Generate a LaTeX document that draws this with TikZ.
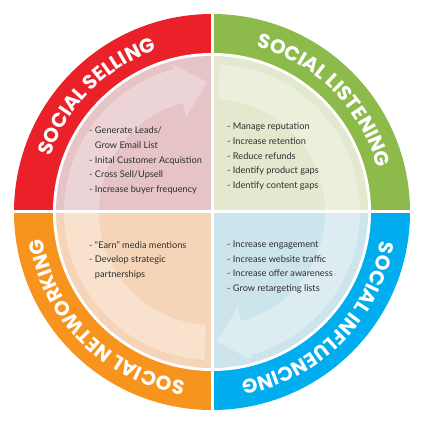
\documentclass[tikz,border=0pt]{standalone}
\usepackage{fontspec}
\setmainfont{Lato}
\newfontfamily\labelfont{Poppins}
\usetikzlibrary{decorations.text}
\definecolor{redband}{HTML}{EB2129}
\definecolor{greenband}{HTML}{8DBB4B}
\definecolor{orangeband}{HTML}{F7941E}
\definecolor{blueband}{HTML}{00ADEE}
\definecolor{redmid}{HTML}{E5C3C6}
\definecolor{redlight}{HTML}{ECD4D6}
\definecolor{greenmid}{HTML}{E2E9CE}
\definecolor{greenlight}{HTML}{EBF0DD}
\definecolor{orangemid}{HTML}{F6D4B7}
\definecolor{orangelight}{HTML}{F8E2CD}
\definecolor{bluemid}{HTML}{CCE4EB}
\definecolor{bluelight}{HTML}{DCECF1}
\definecolor{bodytext}{HTML}{2E2E2E}
\tikzset{
  arrowA/.style={insert path={(267:113pt) arc[start angle=267, end angle=105, radius=113pt]
      -- (105:99pt) -- (92:130pt) -- (105:153pt) -- (105:148pt)
      arc[start angle=105, end angle=267, radius=148pt] -- cycle}},
  arrowB/.style={insert path={(87:113pt) arc[start angle=87, end angle=-75, radius=113pt]
      -- (-75:99pt) -- (-88:130pt) -- (-75:153pt) -- (-75:148pt)
      arc[start angle=-75, end angle=87, radius=148pt] -- cycle}},
  listbox/.style={anchor=north west, inner sep=0pt, align=left, text=bodytext,
      font={\fontsize{9.2}{14.6}\selectfont}},
  ringlabel/.style={decorate, decoration={text along path, text align=center,
      text color=white, text={|\labelfont\bfseries\fontsize{20}{20}\selectfont|#1}}}
}
\begin{document}
\begin{tikzpicture}
\useasboundingbox (-212pt,-213pt) rectangle (213pt,212pt);
% outer bands
\fill[redband] (0,0) -- (90:198pt) arc[start angle=90, end angle=180, radius=198pt] -- cycle;
\fill[greenband] (0,0) -- (0:198pt) arc[start angle=0, end angle=90, radius=198pt] -- cycle;
\fill[orangeband] (0,0) -- (180:198pt) arc[start angle=180, end angle=270, radius=198pt] -- cycle;
\fill[blueband] (0,0) -- (270:198pt) arc[start angle=270, end angle=360, radius=198pt] -- cycle;
\fill[white] (0,0) circle[radius=159pt];
% inner tints
\fill[redmid] (0,0) -- (90:156pt) arc[start angle=90, end angle=180, radius=156pt] -- cycle;
\fill[greenmid] (0,0) -- (0:156pt) arc[start angle=0, end angle=90, radius=156pt] -- cycle;
\fill[orangemid] (0,0) -- (180:156pt) arc[start angle=180, end angle=270, radius=156pt] -- cycle;
\fill[bluemid] (0,0) -- (270:156pt) arc[start angle=270, end angle=360, radius=156pt] -- cycle;
% circular arrows
\begin{scope}
  \clip (0,0) rectangle (-160pt,160pt);
  \fill[redlight, arrowA];
\end{scope}
\begin{scope}
  \clip (0,0) rectangle (-160pt,-160pt);
  \fill[orangelight, arrowA];
\end{scope}
\begin{scope}
  \clip (0,0) rectangle (160pt,160pt);
  \fill[greenlight, arrowB];
\end{scope}
\begin{scope}
  \clip (0,0) rectangle (160pt,-160pt);
  \fill[bluelight, arrowB];
\end{scope}
% separators
\fill[white] (-1.5pt,-200pt) rectangle (1.5pt,200pt);
\fill[white] (-200pt,-1.5pt) rectangle (200pt,1.5pt);
% ring labels
\path[ringlabel={SOCIAL SELLING}] (180:171pt) arc[start angle=180, end angle=90, radius=171pt];
\path[ringlabel={SOCIAL LISTENING}] (90:171pt) arc[start angle=90, end angle=0, radius=171pt];
\path[ringlabel={SOCIAL INFLUENCING}] (0:171pt) arc[start angle=0, end angle=-90, radius=171pt];
\path[ringlabel={SOCIAL NETWORKING}] (-90:171pt) arc[start angle=-90, end angle=-180, radius=171pt];
% lists
\node[listbox] (selling) at (-123pt,85pt) {- Generate Leads/\\\phantom{- }Grow Email List\\- Inital Customer Acquistion\\- Cross Sell/Upsell\\- Increase buyer frequency};
\node[listbox] (listening) at (15pt,89pt) {- Manage reputation\\- Increase retention\\- Reduce refunds\\- Identify product gaps\\- Identify content gaps};
\node[listbox] (networking) at (-123pt,-29pt) {- “Earn” media mentions\\- Develop strategic\\\phantom{- }partnerships};
\node[listbox] (influencing) at (15pt,-29pt) {- Increase engagement\\- Increase website traffic\\- Increase offer awareness\\- Grow retargeting lists};
\end{tikzpicture}
\end{document}
